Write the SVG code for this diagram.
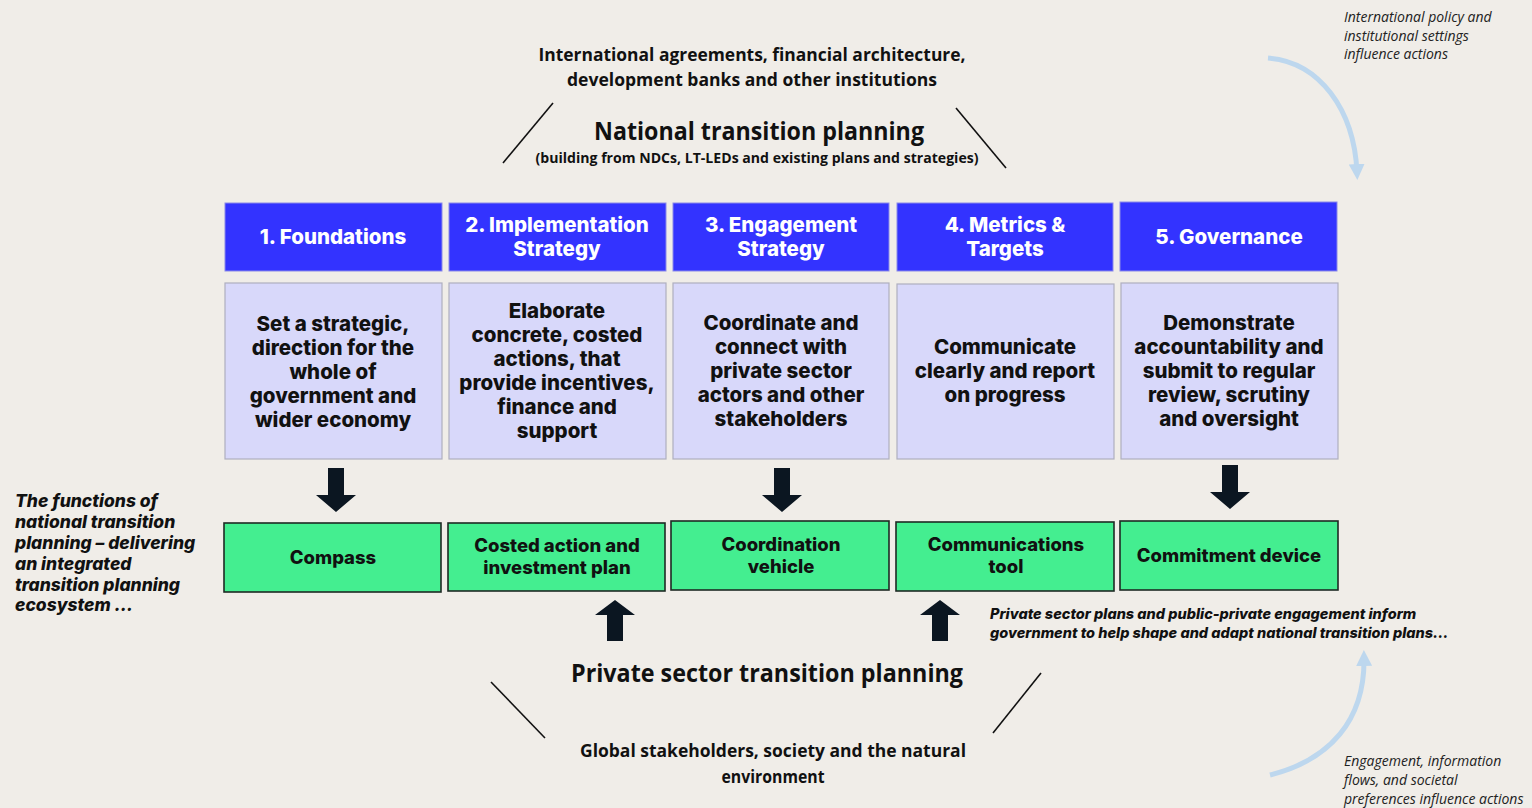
<svg xmlns="http://www.w3.org/2000/svg" width="1532" height="808" viewBox="0 0 1532 808">
<defs>
<style>
.bg{fill:#F0EDE8}
.hdr{fill:#3333FF;stroke:#8A8AE8;stroke-width:1}
.desc{fill:#D8D8FA;stroke:#AFAFBF;stroke-width:1.2}
.fn{fill:#44EE90;stroke:#1E2A24;stroke-width:1.6}
.ht{font-family:Inter,"Noto Sans",sans-serif;font-weight:800;font-size:20.5px;fill:#FFFFFF;text-anchor:middle}
.dt{font-family:Inter,"Noto Sans",sans-serif;font-weight:800;font-size:20.5px;fill:#111111;text-anchor:middle}
.gt{font-family:Inter,"Noto Sans",sans-serif;font-weight:800;font-size:18.5px;fill:#111111;text-anchor:middle}
.cal{font-family:"Open Sans","Liberation Sans",sans-serif;fill:#111111;text-anchor:middle}
.it{font-family:Inter,"Noto Sans",sans-serif;font-weight:800;font-style:italic;fill:#111111}
.sm{font-family:"Open Sans","Liberation Sans",sans-serif;font-style:italic;font-size:14px;fill:#222222}
.ln{stroke:#111111;stroke-width:1.6;fill:none}
.arr{fill:#0B1621}
.curve{stroke:#BDD7EE;stroke-width:5;fill:none}
</style>
<marker id="bh" viewBox="0 0 10 10" refX="5" refY="5" markerWidth="3.2" markerHeight="3.2" orient="auto">
<path d="M0,0 L10,5 L0,10 z" fill="#BDD7EE"/>
</marker>
</defs>
<rect class="bg" x="0" y="0" width="1532" height="808"/>

<g id="context-top">
<text class="cal" font-weight="700" font-size="18" x="752" y="61" textLength="427" lengthAdjust="spacingAndGlyphs">International agreements, financial architecture,</text>
<text class="cal" font-weight="700" font-size="18" x="752" y="86" textLength="370" lengthAdjust="spacingAndGlyphs">development banks and other institutions</text>
<text class="cal" font-weight="700" font-size="25" x="759" y="140" textLength="330" lengthAdjust="spacingAndGlyphs">National transition planning</text>
<text class="cal" font-weight="700" font-size="14" x="757" y="163" textLength="443" lengthAdjust="spacingAndGlyphs">(building from NDCs, LT-LEDs and existing plans and strategies)</text>
</g>

<g id="context-bottom">
<text class="cal" font-weight="700" font-size="25" x="767" y="682" textLength="392" lengthAdjust="spacingAndGlyphs">Private sector transition planning</text>
<text class="cal" font-weight="700" font-size="18" x="773" y="757" textLength="386" lengthAdjust="spacingAndGlyphs">Global stakeholders, society and the natural</text>
<text class="cal" font-weight="700" font-size="18" x="773" y="783" textLength="103" lengthAdjust="spacingAndGlyphs">environment</text>
</g>

<g id="col1">
<rect class="hdr" x="225" y="203" width="217" height="68"/>
<text class="ht" x="333" y="244">1. Foundations</text>
<rect class="desc" x="225" y="283" width="217" height="176"/>
<text class="dt" x="333" y="331">Set a strategic,</text>
<text class="dt" x="333" y="355">direction for the</text>
<text class="dt" x="333" y="379">whole of</text>
<text class="dt" x="333" y="403">government and</text>
<text class="dt" x="333" y="427">wider economy</text>
</g>
<g id="col2">
<rect class="hdr" x="449" y="203" width="217" height="68"/>
<text class="ht" x="557" y="232">2. Implementation</text>
<text class="ht" x="557" y="256">Strategy</text>
<rect class="desc" x="449" y="283" width="217" height="176"/>
<text class="dt" x="557" y="318">Elaborate</text>
<text class="dt" x="557" y="342">concrete, costed</text>
<text class="dt" x="557" y="366">actions, that</text>
<text class="dt" x="557" y="390">provide incentives,</text>
<text class="dt" x="557" y="414">finance and</text>
<text class="dt" x="557" y="438">support</text>
</g>
<g id="col3">
<rect class="hdr" x="673" y="203" width="216" height="68"/>
<text class="ht" x="781" y="232">3. Engagement</text>
<text class="ht" x="781" y="256">Strategy</text>
<rect class="desc" x="673" y="283" width="216" height="176"/>
<text class="dt" x="781" y="330">Coordinate and</text>
<text class="dt" x="781" y="354">connect with</text>
<text class="dt" x="781" y="378">private sector</text>
<text class="dt" x="781" y="402">actors and other</text>
<text class="dt" x="781" y="426">stakeholders</text>
</g>
<g id="col4">
<rect class="hdr" x="897" y="203" width="216" height="68"/>
<text class="ht" x="1005" y="232">4. Metrics &amp;</text>
<text class="ht" x="1005" y="256">Targets</text>
<rect class="desc" x="897" y="284" width="217" height="175"/>
<text class="dt" x="1005" y="354">Communicate</text>
<text class="dt" x="1005" y="378">clearly and report</text>
<text class="dt" x="1005" y="402">on progress</text>
</g>
<g id="col5">
<rect class="hdr" x="1120" y="202" width="217" height="69"/>
<text class="ht" x="1229" y="244">5. Governance</text>
<rect class="desc" x="1121" y="283" width="217" height="176"/>
<text class="dt" x="1229" y="330">Demonstrate</text>
<text class="dt" x="1229" y="354">accountability and</text>
<text class="dt" x="1229" y="378">submit to regular</text>
<text class="dt" x="1229" y="402">review, scrutiny</text>
<text class="dt" x="1229" y="426">and oversight</text>
</g>

<g id="fn-compass">
<rect class="fn" x="224" y="523" width="217" height="69"/>
<text class="gt" x="333" y="564">Compass</text>
</g>
<g id="fn-costed">
<rect class="fn" x="448" y="523" width="217" height="68"/>
<text class="gt" x="557" y="552">Costed action and</text>
<text class="gt" x="557" y="574">investment plan</text>
</g>
<g id="fn-coordination">
<rect class="fn" x="671" y="521" width="218" height="69"/>
<text class="gt" x="781" y="551">Coordination</text>
<text class="gt" x="781" y="573">vehicle</text>
</g>
<g id="fn-communications">
<rect class="fn" x="896" y="522" width="218" height="69"/>
<text class="gt" x="1006" y="551">Communications</text>
<text class="gt" x="1006" y="573">tool</text>
</g>
<g id="fn-commitment">
<rect class="fn" x="1120" y="521" width="218" height="69"/>
<text class="gt" x="1229" y="562">Commitment device</text>
</g>

<g id="notes">
<text class="it" font-size="17.5">
<tspan x="15" y="507">The functions of</tspan>
<tspan x="15" y="528">national transition</tspan>
<tspan x="15" y="549">planning – delivering</tspan>
<tspan x="15" y="570">an integrated</tspan>
<tspan x="15" y="591">transition planning</tspan>
<tspan x="15" y="611">ecosystem …</tspan>
</text>
<text class="it" font-size="14.5">
<tspan x="990" y="619">Private sector plans and public-private engagement inform</tspan>
<tspan x="990" y="638">government to help shape and adapt national transition plans…</tspan>
</text>
<text class="sm">
<tspan x="1344" y="22">International policy and</tspan>
<tspan x="1344" y="41">institutional settings</tspan>
<tspan x="1344" y="59">influence actions</tspan>
</text>
<text class="sm">
<tspan x="1344" y="766">Engagement, information</tspan>
<tspan x="1344" y="785">flows, and societal</tspan>
<tspan x="1344" y="804">preferences influence actions</tspan>
</text>
</g>

<g id="connectors">
<line class="ln" x1="503" y1="163" x2="553" y2="103"/>
<line class="ln" x1="956" y1="108" x2="1006" y2="168"/>
<line class="ln" x1="491" y1="682" x2="545" y2="738"/>
<line class="ln" x1="993" y1="733" x2="1041" y2="673"/>
<path class="arr" d="M328,468 h16 v27 h12 l-20,17 l-20,-17 h12 z"/>
<path class="arr" d="M774,468 h16 v27 h12 l-20,17 l-20,-17 h12 z"/>
<path class="arr" d="M1222,465 h16 v27 h12 l-20,17 l-20,-17 h12 z"/>
<path class="arr" d="M607,641 h16 v-26 h12 l-20,-15 l-20,15 h12 z"/>
<path class="arr" d="M932,641 h16 v-26 h12 l-20,-15 l-20,15 h12 z"/>
<path class="curve" d="M1268,58 C1320,62 1354,110 1357,172" marker-end="url(#bh)"/>
<path class="curve" d="M1270,775 C1330,760 1365,720 1364,658" marker-end="url(#bh)"/>
</g>
</svg>
